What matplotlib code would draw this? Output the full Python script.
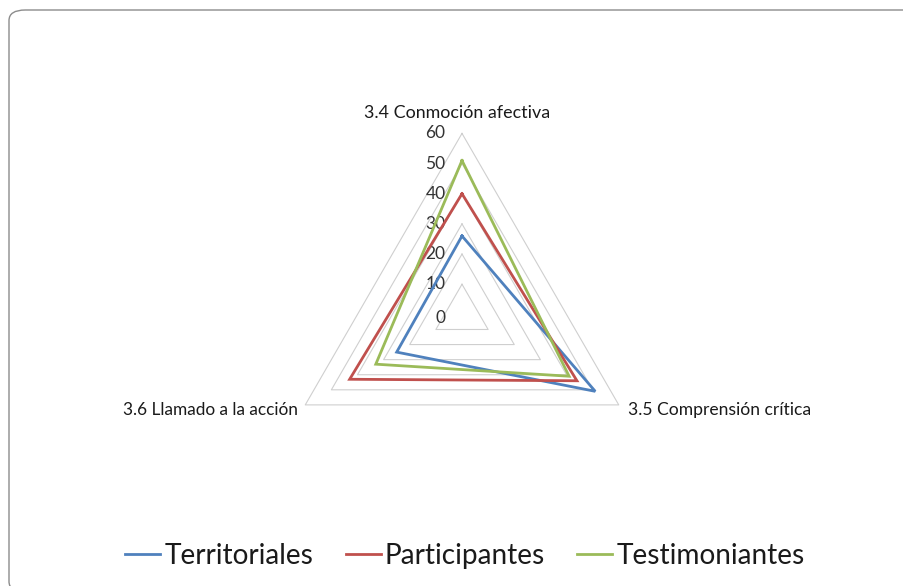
import numpy as np
import matplotlib
matplotlib.use("Agg")
import matplotlib.pyplot as plt
from matplotlib.patches import FancyBboxPatch

# ---- data ----
categories = ["3.4 Conmoción afectiva", "3.5 Comprensión crítica", "3.6 Llamado a la acción"]
series_names = ["Territoriales", "Participantes", "Testimoniantes"]
territoriales = [26, 51, 25]
participantes = [40, 44, 43]
testimoniantes = [51, 41, 33]
tick_values = [0, 10, 20, 30, 40, 50, 60]
colors = ["#4F81BD", "#C0504D", "#9BBB59"]

plt.rcParams['font.family'] = ['Lato', 'DejaVu Sans']

W, H = 904, 586
fig = plt.figure(figsize=(W / 100, H / 100), dpi=100)
fig.patch.set_facecolor("white")

# rounded border
border = FancyBboxPatch((9 / W, 1 - 592 / H), (920 - 9) / W, (592 - 10) / H,
                        boxstyle="round,pad=0,rounding_size=0.018",
                        transform=fig.transFigure, fill=False,
                        edgecolor="#8c8c8c", linewidth=1.0, clip_on=False)
fig.patches.append(border)

ax = fig.add_axes([0, 0, 1, 1])
ax.set_axis_off()
cx, cy, scale = 462.0, 314.4, 181.0 / 60.0
ax.set_xlim((0 - cx) / scale, (W - cx) / scale)
ax.set_ylim((cy - H) / scale, (cy - 0) / scale)

n = len(categories)
angles = np.array([np.pi / 2 - 2 * np.pi * i / n for i in range(n)])

def xy(vals):
    v = np.asarray(vals, dtype=float)
    x = v * np.cos(angles)
    y = v * np.sin(angles)
    return np.append(x, x[0]), np.append(y, y[0])

# grid triangles
for t in tick_values[1:]:
    gx, gy = xy([t] * n)
    ax.plot(gx, gy, color="#cfcfcf", lw=0.8, zorder=1)

# tick labels
for t in tick_values:
    ax.text(-5.5, t + (-1.2 if t == 0 else 0), str(t), ha="right", va="center",
            fontsize=12.5, color="#333333", zorder=2)

# series
series = [territoriales, participantes, testimoniantes]
handles = []
for name, vals, c in zip(series_names, series, colors):
    sx, sy = xy(vals)
    h, = ax.plot(sx, sy, color=c, lw=2.0, label=name, zorder=3, solid_joinstyle="miter")
    handles.append(h)

# category labels
ax.text(-1.7, 60 + 6.8, categories[0], ha="center", va="center", fontsize=12.9, color="#1a1a1a")
r = 60
ax.text(r * np.cos(angles[1]) + 3.2, r * np.sin(angles[1]) - 1.7, categories[1],
        ha="left", va="center", fontsize=12.6, color="#1a1a1a")
ax.text(r * np.cos(angles[2]) - 2.3, r * np.sin(angles[2]) - 1.7, categories[2],
        ha="right", va="center", fontsize=12.4, color="#1a1a1a")

leg = fig.legend(handles=handles, loc="center", bbox_to_anchor=(465 / W, 1 - 556 / H),
                 ncol=3, frameon=False, fontsize=20.2, handlelength=1.25,
                 handletextpad=0.15, columnspacing=1.15)
for txt in leg.get_texts():
    txt.set_color("#1a1a1a")

fig.savefig("out.png", dpi=100, facecolor="white")
